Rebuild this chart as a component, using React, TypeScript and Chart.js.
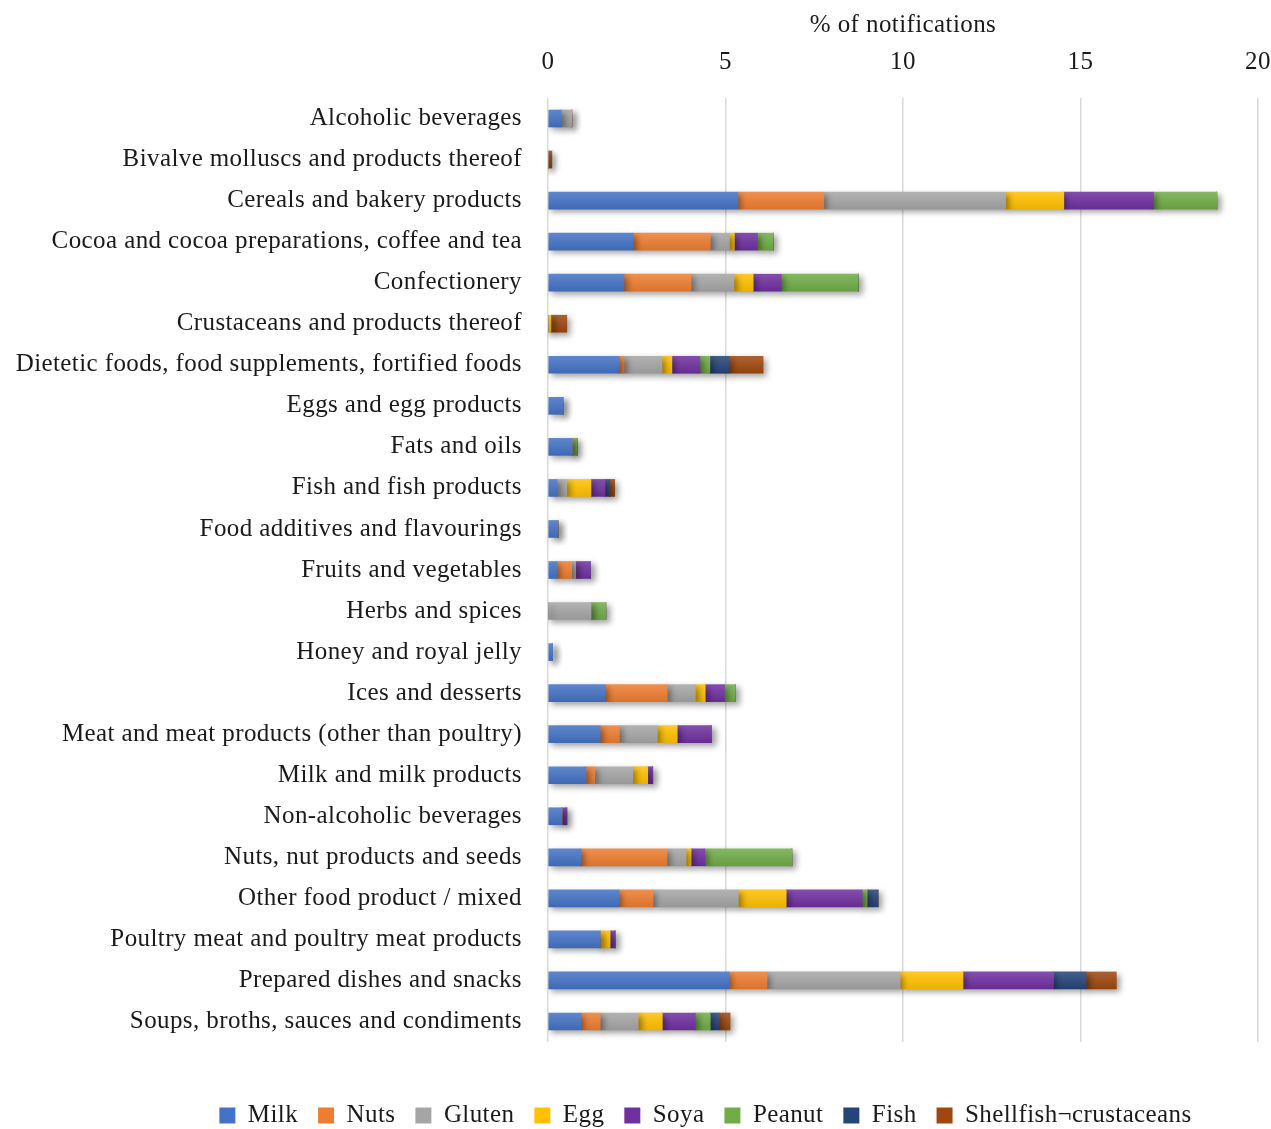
import React, { useEffect, useRef } from "react";
import { Chart, registerables } from "chart.js";
Chart.register(...registerables);

const categories = [
  "Alcoholic beverages",
  "Bivalve molluscs and products thereof",
  "Cereals and bakery products",
  "Cocoa and cocoa preparations, coffee and tea",
  "Confectionery",
  "Crustaceans and products thereof",
  "Dietetic foods, food supplements, fortified foods",
  "Eggs and egg products",
  "Fats and oils",
  "Fish and fish products",
  "Food additives and flavourings",
  "Fruits and vegetables",
  "Herbs and spices",
  "Honey and royal jelly",
  "Ices and desserts",
  "Meat and meat products (other than poultry)",
  "Milk and milk products",
  "Non-alcoholic beverages",
  "Nuts, nut products and seeds",
  "Other food product / mixed",
  "Poultry meat and poultry meat products",
  "Prepared dishes and snacks",
  "Soups, broths, sauces and condiments",
];

const milk = [0.37, 0, 5.35, 2.4, 2.14, 0, 2.0, 0.42, 0.68, 0.25, 0.28, 0.25, 0, 0.13, 1.61, 1.47, 1.07, 0.39, 0.93, 2.0, 1.47, 5.1, 0.93];
const nuts = [0, 0, 2.42, 2.17, 1.89, 0, 0.14, 0, 0, 0, 0, 0.42, 0, 0, 1.75, 0.54, 0.25, 0, 2.42, 0.96, 0, 1.07, 0.54];
const gluten = [0.3, 0, 5.12, 0.54, 1.21, 0, 1.07, 0, 0, 0.28, 0, 0.11, 1.21, 0, 0.79, 1.07, 1.07, 0, 0.54, 2.4, 0, 3.75, 1.07];
const egg = [0, 0, 1.64, 0.14, 0.54, 0.08, 0.28, 0, 0, 0.68, 0, 0, 0, 0, 0.28, 0.56, 0.42, 0, 0.14, 1.35, 0.28, 1.77, 0.68];
const soya = [0, 0, 2.53, 0.65, 0.79, 0, 0.79, 0, 0, 0.39, 0, 0.42, 0, 0, 0.54, 0.96, 0.14, 0.14, 0.39, 2.14, 0.14, 2.54, 0.93];
const peanut = [0, 0, 1.78, 0.44, 2.17, 0, 0.28, 0, 0.14, 0, 0, 0, 0.42, 0, 0.31, 0, 0, 0, 2.45, 0.14, 0, 0, 0.42];
const fish = [0, 0, 0, 0, 0, 0, 0.54, 0, 0, 0.14, 0, 0, 0, 0, 0, 0, 0, 0, 0, 0.31, 0, 0.93, 0.25];
const shellfish = [0, 0.11, 0, 0, 0, 0.45, 0.96, 0, 0, 0.14, 0, 0, 0, 0, 0, 0, 0, 0, 0, 0, 0, 0.85, 0.31];

const seriesNames = ["Milk", "Nuts", "Gluten", "Egg", "Soya", "Peanut", "Fish", "Shellfish¬crustaceans"];
const seriesColors = ["#4472C4", "#ED7D31", "#A5A5A5", "#FFC000", "#7030A0", "#70AD47", "#264478", "#9E480E"];
const seriesValues = [milk, nuts, gluten, egg, soya, peanut, fish, shellfish];
const xTicks = [0, 5, 10, 15, 20];

const FONT = "'Liberation Serif', 'Times New Roman', serif";
const FSIZE = 25;
const SPACING = "0.4px";
const TEXT = "#1a1a1a";

function mix(hex: string, target: number, t: number) {
  const n = parseInt(hex.slice(1), 16);
  const r = (n >> 16) & 255, g = (n >> 8) & 255, b = n & 255;
  const f = (c: number) => Math.round(c + (target - c) * t);
  return `rgb(${f(r)},${f(g)},${f(b)})`;
}

export default function App() {
  const ref = useRef<HTMLCanvasElement>(null);
  useEffect(() => {
    if (!ref.current) return;
    const spacingPlugin = {
      id: "letterSpacing",
      beforeUpdate(chart: any) {
        (chart.ctx as any).letterSpacing = SPACING;
      },
      beforeDraw(chart: any) {
        (chart.ctx as any).letterSpacing = SPACING;
      },
      afterLayout(chart: any) {
        const lg = chart.legend;
        if (lg) {
          lg.left = 140;
          lg.right = 1271;
          lg.width = lg.right - lg.left;
        }
      },
    };
    const shadowPlugin = {
      id: "barShadow",
      beforeDatasetsDraw(chart: any) {
        const c = chart.ctx;
        c.save();
        c.shadowColor = "rgba(0,0,0,0.38)";
        c.shadowBlur = 6;
        c.shadowOffsetX = 3;
        c.shadowOffsetY = 3;
      },
      afterDatasetsDraw(chart: any) {
        chart.ctx.restore();
      },
    };
    const chart = new Chart(ref.current, {
      type: "bar",
      data: {
        labels: categories,
        datasets: seriesNames.map((name, i) => ({
          label: name,
          data: seriesValues[i],
          backgroundColor: (ctx: any) => {
            const base = seriesColors[i];
            const ys = ctx.chart.scales && ctx.chart.scales.y;
            if (!ys || ctx.type !== "data") return base;
            const c = ys.getPixelForValue(ctx.dataIndex);
            const g = ctx.chart.ctx.createLinearGradient(0, c - 8.5, 0, c + 8.5);
            g.addColorStop(0, mix(base, 255, 0.14));
            g.addColorStop(1, mix(base, 0, 0.08));
            return g;
          },
          borderWidth: 0,
          barThickness: 17,
        })),
      },
      options: {
        indexAxis: "y",
        animation: false,
        responsive: false,
        layout: { padding: { left: 0, right: 0, top: 0, bottom: 0 } },
        scales: {
          x: {
            type: "linear",
            position: "top",
            stacked: true,
            min: 0,
            max: 20,
            afterBuildTicks: (scale: any) => {
              scale.ticks = xTicks.map((v) => ({ value: v }));
            },
            afterFit: (scale: any) => {
              scale.height = 98;
              scale.paddingLeft = 0;
              scale.paddingRight = 13;
            },
            grid: { color: "#D9D9D9", lineWidth: 1.5, drawTicks: false },
            border: { display: false },
            ticks: { font: { family: FONT, size: FSIZE }, color: TEXT, padding: 21 },
            title: {
              display: true,
              text: "% of notifications",
              font: { family: FONT, size: FSIZE },
              color: TEXT,
              padding: { top: 10, bottom: 0 },
            },
          },
          y: {
            stacked: true,
            afterFit: (scale: any) => {
              scale.width = 548;
            },
            grid: { display: false, drawTicks: false },
            border: { display: false },
            ticks: { font: { family: FONT, size: FSIZE }, color: TEXT, padding: 26, autoSkip: false },
          },
        },
        plugins: {
          tooltip: { enabled: false },
          legend: {
            position: "bottom",
            maxHeight: 87,
            title: { display: true, text: "", font: { size: 10, lineHeight: 1 }, padding: { top: 31, bottom: 0 } },
            labels: {
              font: { family: FONT, size: FSIZE },
              color: TEXT,
              boxWidth: 16,
              boxHeight: 16,
              padding: 20,
              generateLabels: (ch: any) =>
                ch.data.datasets.map((ds: any, i: number) => ({
                  text: ds.label,
                  fillStyle: seriesColors[i],
                  strokeStyle: seriesColors[i],
                  lineWidth: 0,
                  hidden: false,
                  datasetIndex: i,
                  fontColor: TEXT,
                })),
            },
          },
        },
      },
      plugins: [spacingPlugin, shadowPlugin],
    } as any);
    return () => chart.destroy();
  }, []);
  return (
    <div style={{ position: "absolute", left: 0, top: 0, width: 1271, height: 1129, background: "#fff" }}>
      <canvas ref={ref} width={1271} height={1129} style={{ display: "block" }} />
    </div>
  );
}
